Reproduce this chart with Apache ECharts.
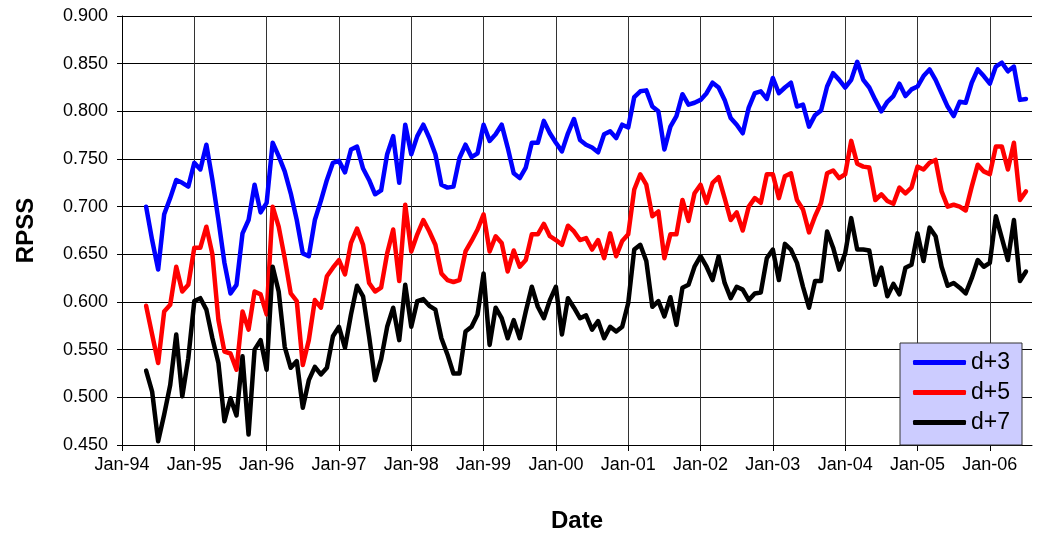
<!DOCTYPE html>
<html>
<head>
<meta charset="utf-8">
<script src="https://cdn.jsdelivr.net/npm/echarts@6/dist/echarts.min.js"></script>
<style>
  html, body { margin: 0; padding: 0; background: #fff; }
  #chart { width: 1040px; height: 538px; }
</style>
</head>
<body>
<div id="chart"></div>
<script>
  // month / year names for the category axis (Jan-94 .. Aug-06)
  var monthNames = ['Jan', 'Feb', 'Mar', 'Apr', 'May', 'Jun', 'Jul', 'Aug', 'Sep', 'Oct', 'Nov', 'Dec'];
  var yearNames = ['94', '95', '96', '97', '98', '99', '00', '01', '02', '03', '04', '05', '06'];
  var lastMonthOfAxis = 7; // Aug-06 closes the axis
  var firstDataIndex = 4;  // data starts May-94

  var seriesNames = ['d+3', 'd+5', 'd+7'];

  // RPSS, monthly from May-94 to Jul-06, one row per year
  var d3 = [
    0.700, 0.665, 0.634, 0.692, 0.709, 0.728, 0.725, 0.721,
    0.746, 0.739, 0.765, 0.728, 0.686, 0.641, 0.609, 0.618, 0.672, 0.686, 0.723, 0.694,
    0.704, 0.767, 0.753, 0.737, 0.714, 0.686, 0.651, 0.648, 0.686, 0.706, 0.728, 0.746,
    0.748, 0.736, 0.760, 0.763, 0.740, 0.728, 0.713, 0.717, 0.755, 0.774, 0.725, 0.786,
    0.755, 0.774, 0.786, 0.772, 0.755, 0.723, 0.720, 0.721, 0.751, 0.765, 0.752, 0.756,
    0.786, 0.769, 0.776, 0.786, 0.762, 0.735, 0.730, 0.741, 0.767, 0.767, 0.790, 0.777,
    0.767, 0.758, 0.777, 0.792, 0.770, 0.765, 0.762, 0.757, 0.776, 0.779, 0.772, 0.786,
    0.783, 0.815, 0.821, 0.822, 0.805, 0.800, 0.760, 0.784, 0.795, 0.818, 0.807, 0.809,
    0.812, 0.819, 0.830, 0.825, 0.812, 0.793, 0.786, 0.777, 0.804, 0.819, 0.821, 0.813,
    0.835, 0.819, 0.825, 0.830, 0.805, 0.807, 0.784, 0.796, 0.801, 0.826, 0.840, 0.833,
    0.825, 0.833, 0.852, 0.833, 0.825, 0.812, 0.800, 0.810, 0.816, 0.829, 0.816, 0.823,
    0.826, 0.837, 0.844, 0.833, 0.819, 0.805, 0.795, 0.810, 0.809, 0.830, 0.844, 0.837,
    0.829, 0.847, 0.851, 0.842, 0.847, 0.812, 0.813
  ];
  var d5 = [
    0.596, 0.566, 0.536, 0.590, 0.597, 0.637, 0.611, 0.618,
    0.657, 0.657, 0.679, 0.650, 0.581, 0.548, 0.546, 0.529, 0.590, 0.571, 0.611, 0.608,
    0.587, 0.700, 0.679, 0.646, 0.609, 0.601, 0.534, 0.560, 0.602, 0.594, 0.627, 0.636,
    0.644, 0.629, 0.662, 0.677, 0.660, 0.620, 0.611, 0.615, 0.651, 0.676, 0.622, 0.702,
    0.653, 0.671, 0.686, 0.674, 0.660, 0.630, 0.623, 0.621, 0.623, 0.653, 0.664, 0.676,
    0.692, 0.653, 0.669, 0.662, 0.632, 0.654, 0.637, 0.644, 0.671, 0.671, 0.682, 0.669,
    0.665, 0.660, 0.680, 0.674, 0.665, 0.667, 0.655, 0.665, 0.646, 0.672, 0.648, 0.664,
    0.671, 0.718, 0.734, 0.723, 0.690, 0.695, 0.646, 0.671, 0.671, 0.707, 0.685, 0.714,
    0.723, 0.704, 0.725, 0.731, 0.709, 0.686, 0.694, 0.675, 0.700, 0.709, 0.704, 0.734,
    0.734, 0.709, 0.732, 0.735, 0.707, 0.697, 0.673, 0.690, 0.704, 0.735, 0.738, 0.730,
    0.734, 0.769, 0.745, 0.742, 0.741, 0.707, 0.713, 0.706, 0.703, 0.720, 0.714, 0.720,
    0.742, 0.739, 0.746, 0.749, 0.716, 0.700, 0.702, 0.700, 0.696, 0.721, 0.744, 0.737,
    0.734, 0.763, 0.763, 0.739, 0.767, 0.707, 0.716
  ];
  var d7 = [
    0.528, 0.506, 0.454, 0.482, 0.513, 0.566, 0.501, 0.541,
    0.601, 0.604, 0.592, 0.562, 0.536, 0.475, 0.499, 0.481, 0.543, 0.461, 0.550, 0.560,
    0.529, 0.637, 0.611, 0.553, 0.531, 0.538, 0.489, 0.518, 0.532, 0.524, 0.531, 0.564,
    0.574, 0.552, 0.587, 0.617, 0.606, 0.564, 0.518, 0.540, 0.574, 0.594, 0.560, 0.618,
    0.574, 0.601, 0.603, 0.596, 0.592, 0.562, 0.545, 0.525, 0.525, 0.569, 0.574, 0.587,
    0.630, 0.555, 0.594, 0.583, 0.562, 0.581, 0.562, 0.590, 0.616, 0.595, 0.583, 0.602,
    0.616, 0.566, 0.604, 0.594, 0.583, 0.586, 0.571, 0.580, 0.562, 0.574, 0.569, 0.574,
    0.599, 0.655, 0.660, 0.643, 0.595, 0.601, 0.585, 0.605, 0.576, 0.615, 0.618, 0.637,
    0.648, 0.637, 0.623, 0.648, 0.620, 0.604, 0.616, 0.613, 0.602, 0.609, 0.610, 0.646,
    0.655, 0.623, 0.661, 0.655, 0.641, 0.616, 0.594, 0.622, 0.622, 0.674, 0.657, 0.634,
    0.651, 0.688, 0.655, 0.655, 0.654, 0.618, 0.636, 0.606, 0.619, 0.608, 0.636, 0.639,
    0.672, 0.643, 0.678, 0.669, 0.637, 0.617, 0.620, 0.615, 0.609, 0.625, 0.644, 0.637,
    0.641, 0.690, 0.667, 0.644, 0.686, 0.622, 0.632
  ];
  var lineColors = ['#0000ff', '#ff0000', '#000000'];

  // 类目轴
  var categories = [];
  yearNames.forEach(function (y, yi) {
    monthNames.forEach(function (m, mi) {
      if (yi === yearNames.length - 1 && mi > lastMonthOfAxis) return;
      categories.push(m + '-' + y);
    });
  });

  var pad = function (arr) {
    var out = [];
    for (var i = 0; i < firstDataIndex; i++) out.push(null);
    out = out.concat(arr);
    while (out.length < categories.length) out.push(null);
    return out;
  };

  var isJan = function (idx) { return idx % 12 === 0; };

  var myChart = echarts.init(document.getElementById('chart'));
  myChart.setOption({
    backgroundColor: '#ffffff',
    animation: false,
    grid: {
      left: 122,
      right: 8,
      top: 16,
      bottom: 93
    },
    legend: {
      orient: 'vertical',
      left: 900,
      top: 343,
      width: 127,
      backgroundColor: '#ccccff',
      borderColor: '#333333',
      borderWidth: 1,
      padding: [8, 12, 11, 13],
      itemGap: 7,
      itemWidth: 53,
      itemHeight: 5,
      icon: 'roundRect',
      textStyle: {
        fontFamily: 'Liberation Sans',
        fontSize: 23,
        color: '#000'
      },
      data: seriesNames
    },
    xAxis: {
      type: 'category',
      boundaryGap: false,
      data: categories,
      name: 'Date',
      nameLocation: 'middle',
      nameGap: 64,
      nameTextStyle: {
        fontFamily: 'Liberation Sans',
        fontSize: 24,
        fontWeight: 'bold',
        color: '#000'
      },
      axisLine: { lineStyle: { color: '#000', width: 1 } },
      axisTick: { interval: isJan, length: 6, lineStyle: { color: '#000' } },
      axisLabel: {
        interval: isJan,
        margin: 11,
        fontFamily: 'Liberation Sans',
        fontSize: 18,
        color: '#000'
      },
      splitLine: { show: true, interval: isJan, lineStyle: { color: '#333', width: 1 } }
    },
    yAxis: {
      type: 'value',
      min: 0.45,
      max: 0.9,
      interval: 0.05,
      name: 'RPSS',
      nameLocation: 'middle',
      nameGap: 84,
      nameTextStyle: {
        fontFamily: 'Liberation Sans',
        fontSize: 24,
        fontWeight: 'bold',
        color: '#000'
      },
      axisLine: { show: true, lineStyle: { color: '#000', width: 1 } },
      axisTick: { show: true, length: 5, lineStyle: { color: '#000' } },
      axisLabel: {
        margin: 14,
        fontFamily: 'Liberation Sans',
        fontSize: 18,
        color: '#000',
        formatter: function (v) { return v.toFixed(3); }
      },
      splitLine: { show: true, lineStyle: { color: '#000', width: 1 } }
    },
    series: [d3, d5, d7].map(function (arr, i) {
      return {
        name: seriesNames[i],
        type: 'line',
        data: pad(arr),
        symbol: 'none',
        color: lineColors[i],
        lineStyle: { color: lineColors[i], width: 4.5, join: 'round', cap: 'round' }
      };
    })
  });
</script>
</body>
</html>
